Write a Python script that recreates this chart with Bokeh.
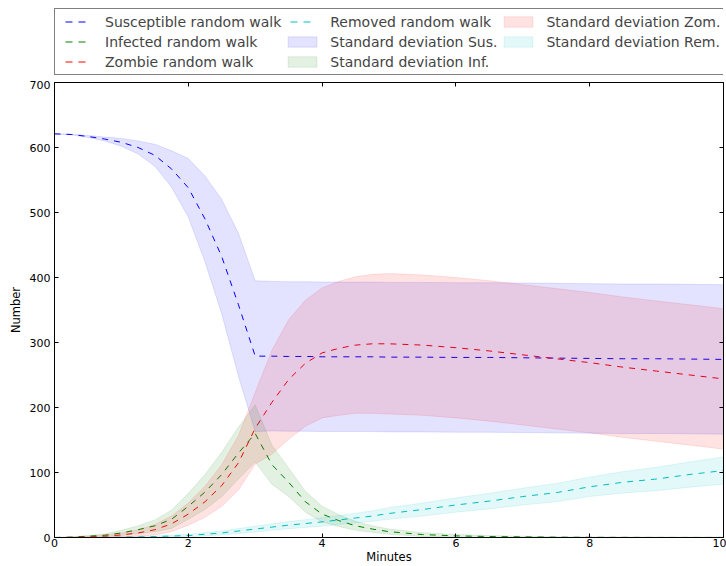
import numpy as np
from bokeh.plotting import figure
from bokeh.layouts import column
from bokeh.models import Legend, LegendItem, LinearAxis, Range1d, FixedTicker
from bokeh.embed import file_html
from bokeh.resources import INLINE

# ---------------- data ----------------
minutes = [0, 0.25, 0.5, 0.75, 1, 1.25, 1.5, 1.75, 2, 2.25, 2.5, 2.75, 3, 3.25, 3.5,
           3.75, 4, 4.25, 4.5, 4.75, 5, 5.5, 6, 6.5, 7, 7.5, 8, 8.5, 9, 9.5, 10]

sus_mean = [621, 620, 617, 613, 608, 600, 588, 567, 538, 490, 432, 358, 279, 279, 278.5,
            278.5, 278, 278, 278, 278, 277.5, 277.5, 277, 277, 276.5, 276, 275.5, 275, 275, 274.5, 274]
sus_std = [0, 0.5, 1.5, 3, 6, 10, 17, 28, 45, 66, 88, 110, 116, 115, 115,
           115, 115, 115, 115, 115, 115, 115, 115, 115, 115, 115, 115, 115, 115, 115, 115]

inf_mean = [0, 0.5, 2, 3.5, 7, 12, 18, 28, 48, 70, 97, 130, 160, 112, 85,
            55, 36, 26, 18, 13, 9, 4.5, 2.5, 1.5, 1, 0.5, 0.3, 0.2, 0.1, 0.1, 0.1]
inf_std = [0, 0.5, 1, 2, 4, 6, 9, 14, 20, 27, 34, 40, 44, 30, 22,
           16, 12, 9, 7, 5, 4, 3, 2, 1.5, 1, 0.5, 0.5, 0.5, 0.5, 0.5, 0.5]

zom_mean = [0, 0.3, 1, 2, 4, 7, 12, 21, 36, 55, 80, 115, 168, 208, 243,
            268, 284, 291, 296, 298, 298, 296, 292, 287, 281, 275, 269, 262, 256, 250, 244]
zom_std = [0, 0.3, 1, 2, 3, 5, 8, 12, 17, 24, 32, 42, 55, 80, 92,
           97, 100, 103, 105, 107, 108, 108, 108, 108, 108, 108, 108, 108, 108, 108, 108]

rem_mean = [0, 0, 0.1, 0.3, 0.5, 1, 1.5, 2.2, 3, 5, 7, 10, 13, 16, 19,
            21.5, 24, 27, 30, 33, 37, 43, 50, 56, 63, 69, 78, 85, 90, 97, 103]
rem_std = [0, 0, 0.1, 0.2, 0.5, 0.7, 1, 1.5, 2, 2.5, 3, 3.8, 4.5, 5, 5.5,
           6, 6.5, 7, 7.5, 8, 9, 10, 11, 12, 13, 14, 15, 16.5, 18, 19.5, 21]

x_ticks = [0, 2, 4, 6, 8, 10]
y_ticks = [0, 100, 200, 300, 400, 500, 600, 700]

line_labels = ["Susceptible random walk", "Infected random walk",
               "Zombie random walk", "Removed random walk"]
band_labels = ["Standard deviation Sus.", "Standard deviation Inf.",
               "Standard deviation Zom.", "Standard deviation Rem."]
colors = ["#0000ff", "#008000", "#ff0000", "#00bfbf"]

FONT = "DejaVu Sans"
BAND_ALPHA = 0.11

# ---------------- main plot ----------------
p = figure(width=726, height=486, x_range=Range1d(0, 10), y_range=Range1d(0, 700),
           output_backend="svg", toolbar_location=None,
           min_border_left=54, min_border_right=3, min_border_top=2, min_border_bottom=29)
p.grid.visible = False
p.outline_line_color = "black"
p.background_fill_color = "white"

t = np.array(minutes, dtype=float)
means = [np.array(a, float) for a in (sus_mean, inf_mean, zom_mean, rem_mean)]
stds = [np.array(a, float) for a in (sus_std, inf_std, zom_std, rem_std)]

for m, c in zip(means, colors):
    p.line(t, m, line_color=c, line_dash="6 6", line_width=1)

for m, s, c in zip(means, stds, colors):
    upper = m + s
    lower = m - s
    xs = np.concatenate([t, t[::-1]])
    ys = np.concatenate([upper, lower[::-1]])
    p.patch(xs, ys, fill_color=c, fill_alpha=BAND_ALPHA, line_color=c,
            line_alpha=BAND_ALPHA, line_width=1)

def style_axis(ax, ticks, show_labels=True):
    ax.ticker = FixedTicker(ticks=ticks)
    ax.minor_tick_line_color = None
    ax.major_tick_in = 4
    ax.major_tick_out = 0
    ax.axis_line_color = "black"
    ax.major_tick_line_color = "black"
    ax.major_label_text_font = FONT
    if show_labels:
        ax.major_label_text_font_size = "11px"
        ax.major_label_text_color = "black"
    else:
        ax.major_label_text_font_size = "1px"
        ax.major_label_text_alpha = 0
        ax.major_label_standoff = 0

style_axis(p.xaxis[0], x_ticks)
style_axis(p.yaxis[0], y_ticks)
p.xaxis[0].major_label_standoff = 1
p.yaxis[0].major_label_standoff = 4
p.xaxis[0].axis_label = "Minutes"
p.yaxis[0].axis_label = "Number"
for ax in (p.xaxis[0], p.yaxis[0]):
    ax.axis_label_text_font = FONT
    ax.axis_label_text_font_size = "11.5px"
    ax.axis_label_text_font_style = "normal"
    ax.axis_label_text_color = "black"
p.xaxis[0].axis_label_standoff = 0
p.yaxis[0].axis_label_standoff = 4

top_axis = LinearAxis()
style_axis(top_axis, x_ticks, show_labels=False)
right_axis = LinearAxis()
style_axis(right_axis, y_ticks, show_labels=False)
p.add_layout(top_axis, "above")
p.add_layout(right_axis, "right")

# ---------------- legend strip above the plot ----------------
lf = figure(width=726, height=80, x_range=Range1d(0, 1), y_range=Range1d(0, 1),
            output_backend="svg", toolbar_location=None, min_border=0,
            x_axis_type=None, y_axis_type=None)
lf.grid.visible = False
lf.outline_line_color = None

line_keys = []
for c in colors:
    line_keys.append(lf.line(x=[-5, -4], y=[-5, -4], line_color=c,
                             line_dash="0 6 7 6 7 100", line_width=1))
band_keys = []
for c in colors:
    band_keys.append(lf.patch(x=[-5, -4, -4], y=[-5, -5, -4], fill_color=c,
                              fill_alpha=BAND_ALPHA, line_color=c,
                              line_alpha=BAND_ALPHA, line_width=1))

items = [LegendItem(label=l, renderers=[r]) for l, r in zip(line_labels, line_keys)]
items += [LegendItem(label=l, renderers=[r]) for l, r in zip(band_labels, band_keys)]

legend = Legend(items=items, orientation="vertical", nrows=3, location=(0, 5),
                margin=0, padding=4, spacing=3, glyph_width=36, glyph_height=13,
                label_height=17, label_standoff=10, label_text_font=FONT,
                label_text_font_size="14px", border_line_color="black",
                border_line_width=1, background_fill_color="white", background_fill_alpha=1)
lf.add_layout(legend, "center")

layout = column(lf, p, spacing=0)
open("out.html", "w").write(file_html(layout, INLINE))
